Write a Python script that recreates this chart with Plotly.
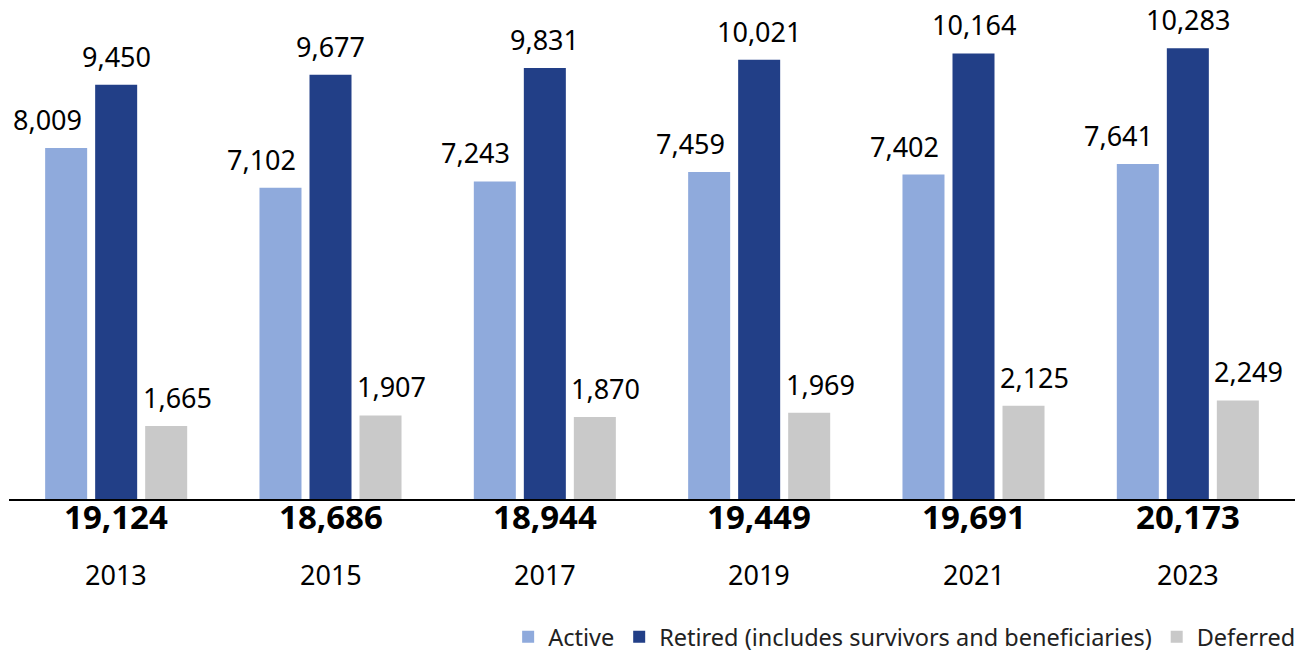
import plotly.graph_objects as go

# data
years = ["2013", "2015", "2017", "2019", "2021", "2023"]
active = [8009, 7102, 7243, 7459, 7402, 7641]
retired = [9450, 9677, 9831, 10021, 10164, 10283]
deferred = [1665, 1907, 1870, 1969, 2125, 2249]
totals = [19124, 18686, 18944, 19449, 19691, 20173]

series = [
    ("Active", active, "#8FAADC", -50, -19),
    ("Retired (includes survivors and beneficiaries)", retired, "#223F87", 0, 0),
    ("Deferred", deferred, "#C9C9C9", 50, 11),
]

font = "Noto Sans"

fig = go.Figure()
annos = []
for name, vals, col, off, lab_off in series:
    fig.add_trace(go.Bar(x=years, y=vals, name=name, marker_color=col,
                         marker_line_width=0))
    # value labels above each bar, shifted a bit like the original
    # (x given as category index, years look like numbers to plotly)
    for i, v in enumerate(vals):
        annos.append(dict(x=i, y=v, text=f"{v:,}", showarrow=False,
                          xshift=off + lab_off, yshift=8, yanchor="bottom",
                          font=dict(family=font, size=27, color="black")))

# totals and year labels under the axis
for i, (yr, t) in enumerate(zip(years, totals)):
    annos.append(dict(x=i, y=-0.035, yref="paper", text=f"<b>{t:,}</b>",
                      showarrow=False, yanchor="middle",
                      font=dict(family=font, size=33, color="black")))
    annos.append(dict(x=i, y=-0.153, yref="paper", text=yr,
                      showarrow=False, yanchor="middle",
                      font=dict(family=font, size=27, color="black")))

# page body has an 8px margin, so the figure is a bit smaller than the window
fig.update_layout(
    width=1298, height=645,
    margin=dict(l=1, r=11, t=0, b=154, autoexpand=False),
    barmode="group", bargap=0.30, bargroupgap=0.16,
    plot_bgcolor="white", paper_bgcolor="white",
    annotations=annos,
    showlegend=True,
    legend=dict(orientation="h", x=1.004, xanchor="right", y=-0.281, yanchor="middle",
                font=dict(family=font, size=23.5, color="#222"),
                traceorder="normal"),
    font=dict(family=font),
)
fig.update_xaxes(type="category", range=[-0.5, len(years) - 0.5],
                 showticklabels=False, showline=True, automargin=False,
                 linecolor="black", linewidth=2, ticks="")
fig.update_yaxes(range=[0, 11200], visible=False, automargin=False)

fig.write_html("out.html")
